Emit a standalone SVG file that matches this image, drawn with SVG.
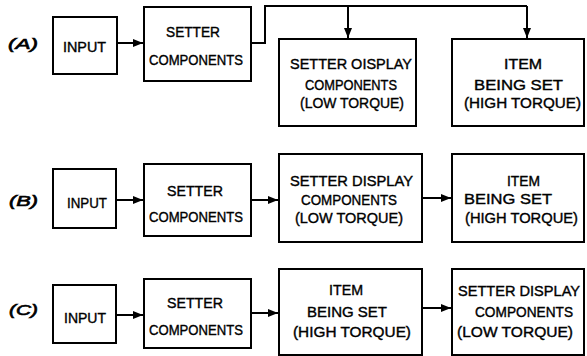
<svg xmlns="http://www.w3.org/2000/svg" width="587" height="356" viewBox="0 0 587 356">
<style>
.box{fill:#fff;stroke:#000;stroke-width:2}
.t{font-family:"Liberation Sans",Arial,sans-serif;font-size:15.5px;fill:#000;stroke:#000;stroke-width:0.4}
.lbl{font-family:"Liberation Sans",Arial,sans-serif;font-size:14px;font-style:italic;fill:#000;stroke:#000;stroke-width:0.6}
.c{fill:none;stroke:#000;stroke-width:2}
</style>
<defs>
<marker id="ah" viewBox="0 0 10 8" refX="10" refY="4" markerWidth="10" markerHeight="8" markerUnits="userSpaceOnUse" orient="auto">
<path d="M0,0 L10,4 L0,8 z" fill="#000"/>
</marker>
</defs>
<rect width="587" height="356" fill="#fff"/>
<g id="labels">
<text class="lbl" x="8" y="49" textLength="30" lengthAdjust="spacingAndGlyphs">(A)</text>
<text class="lbl" x="9" y="206" textLength="29" lengthAdjust="spacingAndGlyphs">(B)</text>
<text class="lbl" x="9" y="315" textLength="29" lengthAdjust="spacingAndGlyphs">(C)</text>
</g>
<g id="a-input"><rect class="box" x="53" y="17" width="64" height="57"/>
<text class="t" x="63" y="52" textLength="43" lengthAdjust="spacingAndGlyphs">INPUT</text></g>
<g id="a-setter"><rect class="box" x="144" y="7" width="107" height="74"/>
<text class="t" x="166" y="37" textLength="54" lengthAdjust="spacingAndGlyphs">SETTER</text>
<text class="t" x="149" y="65" textLength="94" lengthAdjust="spacingAndGlyphs">COMPONENTS</text></g>
<g id="a-display"><rect class="box" x="279" y="39" width="137" height="87"/>
<text class="t" x="290" y="69" textLength="122" lengthAdjust="spacingAndGlyphs">SETTER OISPLAY</text>
<text class="t" x="305" y="90" textLength="92" lengthAdjust="spacingAndGlyphs">COMPONENTS</text>
<text class="t" x="300" y="108" textLength="104" lengthAdjust="spacingAndGlyphs">(LOW TORQUE)</text></g>
<g id="a-item"><rect class="box" x="452" y="39" width="132" height="87"/>
<text class="t" x="504" y="69" textLength="38" lengthAdjust="spacingAndGlyphs">ITEM</text>
<text class="t" x="474" y="90" textLength="89" lengthAdjust="spacingAndGlyphs">BEING SET</text>
<text class="t" x="464" y="108" textLength="117" lengthAdjust="spacingAndGlyphs">(HIGH TORQUE)</text></g>

<g id="b-input"><rect class="box" x="53" y="169" width="63" height="59"/>
<text class="t" x="67" y="208" textLength="40" lengthAdjust="spacingAndGlyphs">INPUT</text></g>
<g id="b-setter"><rect class="box" x="144" y="164" width="107" height="72"/>
<text class="t" x="167" y="196" textLength="56" lengthAdjust="spacingAndGlyphs">SETTER</text>
<text class="t" x="149" y="222" textLength="94" lengthAdjust="spacingAndGlyphs">COMPONENTS</text></g>
<g id="b-display"><rect class="box" x="279" y="154" width="143" height="88"/>
<text class="t" x="290" y="186" textLength="123" lengthAdjust="spacingAndGlyphs">SETTER DISPLAY</text>
<text class="t" x="301" y="205" textLength="96" lengthAdjust="spacingAndGlyphs">COMPONENTS</text>
<text class="t" x="295" y="223" textLength="108" lengthAdjust="spacingAndGlyphs">(LOW TORQUE)</text></g>
<g id="b-item"><rect class="box" x="452" y="154" width="132" height="88"/>
<text class="t" x="507" y="186" textLength="33" lengthAdjust="spacingAndGlyphs">ITEM</text>
<text class="t" x="464" y="204" textLength="88" lengthAdjust="spacingAndGlyphs">BEING SET</text>
<text class="t" x="465" y="223" textLength="113" lengthAdjust="spacingAndGlyphs">(HIGH TORQUE)</text></g>

<g id="c-input"><rect class="box" x="53" y="285" width="63" height="58"/>
<text class="t" x="64" y="323" textLength="42" lengthAdjust="spacingAndGlyphs">INPUT</text></g>
<g id="c-setter"><rect class="box" x="144" y="279" width="107" height="69"/>
<text class="t" x="167" y="308" textLength="56" lengthAdjust="spacingAndGlyphs">SETTER</text>
<text class="t" x="149" y="335" textLength="94" lengthAdjust="spacingAndGlyphs">COMPONENTS</text></g>
<g id="c-item"><rect class="box" x="279" y="269" width="143" height="86"/>
<text class="t" x="329" y="295" textLength="34" lengthAdjust="spacingAndGlyphs">ITEM</text>
<text class="t" x="307" y="317" textLength="80" lengthAdjust="spacingAndGlyphs">BEING SET</text>
<text class="t" x="293" y="337" textLength="118" lengthAdjust="spacingAndGlyphs">(HIGH TORQUE)</text></g>
<g id="c-display"><rect class="box" x="452" y="269" width="132" height="86"/>
<text class="t" x="458" y="296" textLength="122" lengthAdjust="spacingAndGlyphs">SETTER DISPLAY</text>
<text class="t" x="475" y="317" textLength="98" lengthAdjust="spacingAndGlyphs">COMPONENTS</text>
<text class="t" x="457" y="337" textLength="116" lengthAdjust="spacingAndGlyphs">(LOW TORQUE)</text></g>

<g id="connectors">
<path class="c" d="M117,43 H143" marker-end="url(#ah)"/>
<path class="c" d="M251,43 H265 V6 H527"/>
<path class="c" d="M348,6 V38" marker-end="url(#ah)"/>
<path class="c" d="M527,6 V38" marker-end="url(#ah)"/>
<path class="c" d="M116,200 H143" marker-end="url(#ah)"/>
<path class="c" d="M251,200 H278" marker-end="url(#ah)"/>
<path class="c" d="M422,198 H451" marker-end="url(#ah)"/>
<path class="c" d="M116,315 H143" marker-end="url(#ah)"/>
<path class="c" d="M251,313 H278" marker-end="url(#ah)"/>
<path class="c" d="M422,308 H451" marker-end="url(#ah)"/>
</g>
</svg>
